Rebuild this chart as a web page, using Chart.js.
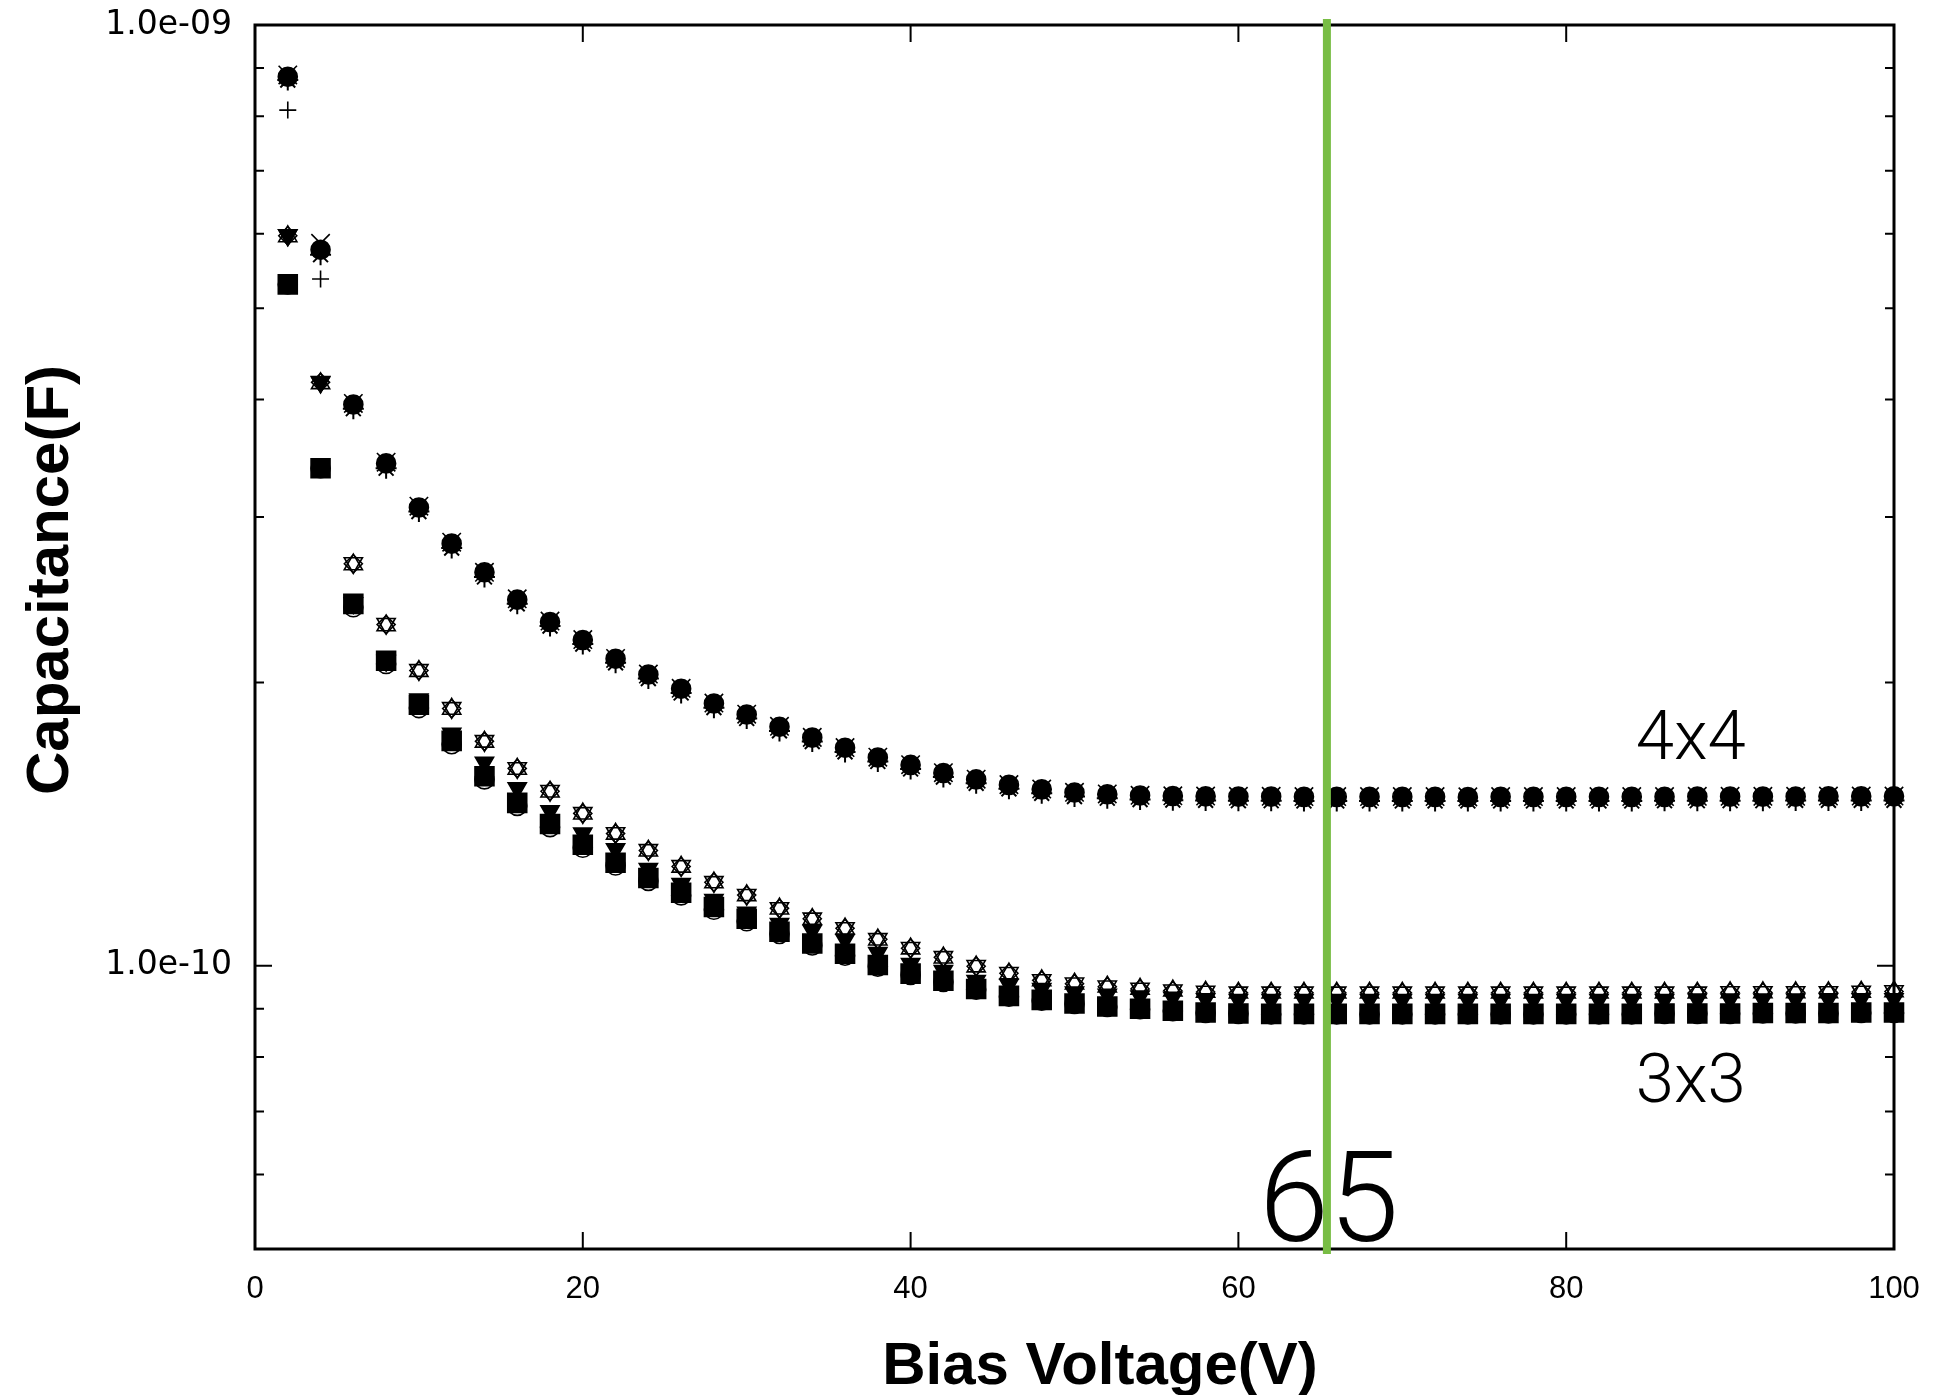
<!DOCTYPE html>
<html>
<head>
<meta charset="utf-8">
<title>Capacitance vs Bias Voltage</title>
<script src="https://cdn.jsdelivr.net/npm/chart.js@4.4.1/dist/chart.umd.min.js"></script>
<style>
  html, body { margin: 0; padding: 0; background: #ffffff; }
  #chart-container { width: 1935px; height: 1395px; }
</style>
</head>
<body>
<div id="chart-container"><canvas id="myChart" width="1935" height="1395"></canvas></div>
<script>
// bias voltage (V)
var voltage = [2, 4, 6, 8, 10, 12, 14, 16, 18, 20, 22, 24, 26, 28, 30, 32, 34, 36, 38, 40,
    42, 44, 46, 48, 50, 52, 54, 56, 58, 60, 62, 64, 66, 68, 70, 72, 74, 76, 78, 80,
    82, 84, 86, 88, 90, 92, 94, 96, 98, 100];

// capacitance, in units of 1e-10 F
// 4x4 pads
var pad4Circle = [8.81, 5.77, 3.95, 3.42, 3.07, 2.81, 2.62, 2.45, 2.32, 2.22, 2.12, 2.04, 1.97, 1.90, 1.85, 1.795, 1.748, 1.705, 1.665, 1.635,
    1.603, 1.578, 1.557, 1.540, 1.528, 1.522, 1.517, 1.515, 1.514, 1.513, 1.513, 1.512, 1.512, 1.512, 1.512, 1.512, 1.511, 1.512, 1.512, 1.512,
    1.512, 1.512, 1.512, 1.513, 1.513, 1.513, 1.513, 1.514, 1.514, 1.514];
var pad4Star = [8.74, 5.70, 3.91, 3.38, 3.04, 2.78, 2.59, 2.425, 2.297, 2.198, 2.099, 2.02, 1.95, 1.881, 1.832, 1.777, 1.731, 1.688, 1.649, 1.619,
    1.587, 1.563, 1.542, 1.525, 1.513, 1.507, 1.502, 1.500, 1.499, 1.498, 1.498, 1.497, 1.497, 1.497, 1.497, 1.497, 1.497, 1.497, 1.497, 1.497,
    1.497, 1.497, 1.498, 1.498, 1.498, 1.498, 1.499, 1.499, 1.499, 1.499];
var pad4Cross = [8.85, 5.86, 3.96, 3.43, 3.08, 2.82, 2.62, 2.455, 2.325, 2.222, 2.122, 2.042, 1.972, 1.902, 1.851, 1.797, 1.749, 1.706, 1.666, 1.636,
    1.604, 1.579, 1.558, 1.541, 1.529, 1.523, 1.518, 1.516, 1.515, 1.514, 1.514, 1.513, 1.513, 1.513, 1.513, 1.513, 1.512, 1.513, 1.513, 1.513,
    1.513, 1.513, 1.513, 1.514, 1.514, 1.514, 1.514, 1.515, 1.515, 1.515];
var pad4Plus = [8.12, 5.37, 3.95, 3.42, 3.07, 2.81, 2.62, 2.45, 2.32, 2.22, 2.12, 2.04, 1.97, 1.90, 1.85, 1.795, 1.748, 1.705, 1.665, 1.635,
    1.603, 1.578, 1.557, 1.540, 1.528, 1.522, 1.517, 1.515, 1.514, 1.513, 1.513, 1.512, 1.512, 1.512, 1.512, 1.512, 1.511, 1.512, 1.512, 1.512,
    1.512, 1.512, 1.512, 1.513, 1.513, 1.513, 1.513, 1.514, 1.514, 1.514];

// 3x3 pads
var pad3Square = [5.30, 3.38, 2.425, 2.11, 1.894, 1.734, 1.59, 1.49, 1.415, 1.345, 1.287, 1.240, 1.196, 1.155, 1.122, 1.087, 1.056, 1.030, 1.002, 0.981,
    0.964, 0.945, 0.929, 0.920, 0.912, 0.905, 0.900, 0.896, 0.892, 0.890, 0.889, 0.889, 0.889, 0.889, 0.889, 0.889, 0.889, 0.889, 0.889, 0.889,
    0.889, 0.889, 0.890, 0.890, 0.890, 0.891, 0.891, 0.891, 0.892, 0.892];
var pad3Circle = [5.30, 3.38, 2.405, 2.093, 1.879, 1.720, 1.578, 1.479, 1.404, 1.335, 1.278, 1.231, 1.188, 1.147, 1.115, 1.081, 1.051, 1.025, 0.998, 0.978,
    0.961, 0.943, 0.927, 0.918, 0.911, 0.904, 0.899, 0.895, 0.891, 0.889, 0.888, 0.888, 0.888, 0.888, 0.888, 0.888, 0.888, 0.888, 0.888, 0.888,
    0.888, 0.888, 0.889, 0.889, 0.889, 0.890, 0.890, 0.890, 0.891, 0.891];
var pad3TriFilled = [5.98, 4.17, 2.43, 2.11, 1.92, 1.765, 1.645, 1.545, 1.46, 1.383, 1.331, 1.268, 1.222, 1.175, 1.139, 1.108, 1.090, 1.066, 1.032, 1.005,
    0.988, 0.964, 0.955, 0.945, 0.937, 0.932, 0.928, 0.925, 0.922, 0.920, 0.920, 0.920, 0.920, 0.920, 0.920, 0.920, 0.920, 0.920, 0.920, 0.920,
    0.920, 0.920, 0.920, 0.921, 0.921, 0.921, 0.921, 0.922, 0.922, 0.922];
var pad3TriDown = [5.98, 4.175, 2.68, 2.31, 2.063, 1.88, 1.734, 1.623, 1.535, 1.454, 1.384, 1.328, 1.277, 1.228, 1.190, 1.152, 1.123, 1.097, 1.068, 1.045,
    1.022, 1.000, 0.983, 0.966, 0.958, 0.951, 0.946, 0.942, 0.939, 0.937, 0.937, 0.937, 0.937, 0.937, 0.937, 0.937, 0.937, 0.937, 0.937, 0.937,
    0.937, 0.937, 0.937, 0.937, 0.938, 0.938, 0.938, 0.938, 0.939, 0.940];
var pad3TriUp = [5.96, 4.16, 2.67, 2.30, 2.057, 1.875, 1.730, 1.619, 1.531, 1.451, 1.381, 1.325, 1.274, 1.226, 1.188, 1.150, 1.121, 1.095, 1.066, 1.043,
    1.020, 0.998, 0.981, 0.965, 0.957, 0.950, 0.945, 0.941, 0.938, 0.936, 0.936, 0.936, 0.936, 0.936, 0.936, 0.936, 0.936, 0.936, 0.936, 0.936,
    0.936, 0.936, 0.936, 0.936, 0.937, 0.937, 0.937, 0.937, 0.938, 0.939];
var pad3Diamond = [5.97, 4.17, 2.675, 2.305, 2.06, 1.877, 1.732, 1.621, 1.533, 1.452, 1.382, 1.326, 1.275, 1.227, 1.189, 1.151, 1.122, 1.096, 1.067, 1.044,
    1.021, 0.999, 0.982, 0.965, 0.957, 0.950, 0.945, 0.941, 0.938, 0.936, 0.936, 0.936, 0.936, 0.936, 0.936, 0.936, 0.936, 0.936, 0.936, 0.936,
    0.936, 0.936, 0.936, 0.936, 0.937, 0.937, 0.937, 0.937, 0.938, 0.939];

// axis ticks
var xTickValues = [0, 20, 40, 60, 80, 100];
var yTickValues = [1e-10, 1e-9];
var yTickLabels = ['1.0e-10', '1.0e-09'];
var yMinorTicks = [6e-11, 7e-11, 8e-11, 9e-11, 2e-10, 3e-10, 4e-10, 5e-10, 6e-10, 7e-10, 8e-10, 9e-10];

// depletion voltage marker
var markerVoltage = 65.4;
var markerLabel = '65';

var unit = 1e-10;

function toPoints(values) {
    var pts = [];
    for (var i = 0; i < voltage.length; i++) {
        pts.push({ x: voltage[i], y: values[i] * unit });
    }
    return pts;
}

function series(label, values, style, radius, filled, rotation, lw) {
    return {
        label: label,
        data: toPoints(values),
        pointStyle: style,
        pointRadius: radius,
        pointHoverRadius: radius,
        pointRotation: rotation || 0,
        borderColor: '#000000',
        backgroundColor: filled ? '#000000' : 'rgba(0,0,0,0)',
        borderWidth: lw || 1.6,
        showLine: false,
        clip: false
    };
}

// frame with inward ticks like gnuplot
var frameTicks = {
    id: 'frameTicks',
    beforeDatasetsDraw: function (chart) {
        var ctx = chart.ctx;
        var a = chart.chartArea;
        var xs = chart.scales.x;
        var ys = chart.scales.y;
        ctx.save();
        ctx.strokeStyle = '#000000';
        ctx.lineWidth = 2;
        ctx.beginPath();
        for (var i = 0; i < xTickValues.length; i++) {
            var px = xs.getPixelForValue(xTickValues[i]);
            ctx.moveTo(px, a.bottom); ctx.lineTo(px, a.bottom - 17);
            ctx.moveTo(px, a.top); ctx.lineTo(px, a.top + 17);
        }
        for (var j = 0; j < yTickValues.length; j++) {
            var py = ys.getPixelForValue(yTickValues[j]);
            ctx.moveTo(a.left, py); ctx.lineTo(a.left + 17, py);
            ctx.moveTo(a.right, py); ctx.lineTo(a.right - 17, py);
        }
        for (var k = 0; k < yMinorTicks.length; k++) {
            var my = ys.getPixelForValue(yMinorTicks[k]);
            ctx.moveTo(a.left, my); ctx.lineTo(a.left + 9, my);
            ctx.moveTo(a.right, my); ctx.lineTo(a.right - 9, my);
        }
        ctx.stroke();
        ctx.lineWidth = 3;
        ctx.strokeRect(a.left, a.top, a.right - a.left, a.bottom - a.top);
        ctx.restore();
    },
    afterDatasetsDraw: function (chart) {
        var ctx = chart.ctx;
        var a = chart.chartArea;
        var xs = chart.scales.x;
        var ys = chart.scales.y;
        ctx.save();
        // green marker line
        var gx = xs.getPixelForValue(markerVoltage);
        ctx.strokeStyle = '#78BD44';
        ctx.lineWidth = 8;
        ctx.beginPath();
        ctx.moveTo(gx, a.top - 6);
        ctx.lineTo(gx, a.bottom + 5);
        ctx.stroke();

        // annotations
        ctx.fillStyle = '#000000';
        ctx.textAlign = 'center';
        ctx.textBaseline = 'alphabetic';
        ctx.font = '300 69px Roboto, "Open Sans", "Noto Sans", sans-serif';
        ctx.fillText('4x4', xs.getPixelForValue(87.6), ys.getPixelForValue(1.66e-10));
        ctx.fillText('3x3', xs.getPixelForValue(87.6), ys.getPixelForValue(0.717e-10));
        ctx.font = '300 126px Roboto, "Open Sans", "Noto Sans", sans-serif';
        ctx.fillText(markerLabel, gx + 2, a.bottom - 8);

        // axis titles
        ctx.font = 'bold 60px "Liberation Sans", Arial, sans-serif';
        ctx.fillText('Bias Voltage(V)', 1100, 1384);
        ctx.translate(68, 580);
        ctx.rotate(-Math.PI / 2);
        ctx.fillText('Capacitance(F)', 0, 0);
        ctx.restore();
    }
};

var ctx = document.getElementById('myChart');
var myChart = new Chart(ctx, {
    type: 'scatter',
    data: {
        datasets: [
            series('4x4 a', pad4Circle, 'circle', 9.5, true),
            series('4x4 b', pad4Star, 'star', 10.5, false, 0, 2),
            series('4x4 c', pad4Cross, 'crossRot', 13, false),
            series('4x4 d', pad4Plus, 'cross', 8.5, false),
            series('3x3 a', pad3Square, 'rect', 13.4, true),
            series('3x3 b', pad3Circle, 'circle', 9.5, false),
            series('3x3 c', pad3TriFilled, 'triangle', 10.5, true, 180),
            series('3x3 d', pad3TriDown, 'triangle', 10.5, false, 180),
            series('3x3 e', pad3TriUp, 'triangle', 10.5, false),
            series('3x3 f', pad3Diamond, 'rectRot', 9, false)
        ]
    },
    options: {
        responsive: false,
        animation: false,
        devicePixelRatio: 1,
        layout: { padding: { left: 0, top: 25, right: 41, bottom: 0 } },
        plugins: {
            legend: { display: false },
            tooltip: { enabled: false }
        },
        scales: {
            x: {
                type: 'linear',
                min: 0,
                max: 100,
                grid: { display: false, drawTicks: false },
                border: { display: false },
                afterBuildTicks: function (scale) {
                    scale.ticks = xTickValues.map(function (v) { return { value: v }; });
                },
                afterFit: function (scale) {
                    scale.height = 146;
                    scale.paddingLeft = 0;
                    scale.paddingRight = 0;
                },
                ticks: {
                    padding: 22,
                    color: '#000000',
                    maxRotation: 0,
                    font: { family: '"Liberation Sans", Arial, sans-serif', size: 31 }
                }
            },
            y: {
                type: 'logarithmic',
                min: 5e-11,
                max: 1e-9,
                grid: { display: false, drawTicks: false },
                border: { display: false },
                afterBuildTicks: function (scale) {
                    scale.ticks = yTickValues.map(function (v) { return { value: v }; });
                },
                afterFit: function (scale) {
                    scale.width = 255;
                    scale.paddingTop = 0;
                    scale.paddingBottom = 0;
                },
                ticks: {
                    padding: 23,
                    color: '#000000',
                    font: { family: '"DejaVu Sans", sans-serif', size: 33 },
                    callback: function (value) {
                        var idx = yTickValues.indexOf(value);
                        return idx >= 0 ? yTickLabels[idx] : '';
                    }
                }
            }
        }
    },
    plugins: [frameTicks]
});
</script>
</body>
</html>
